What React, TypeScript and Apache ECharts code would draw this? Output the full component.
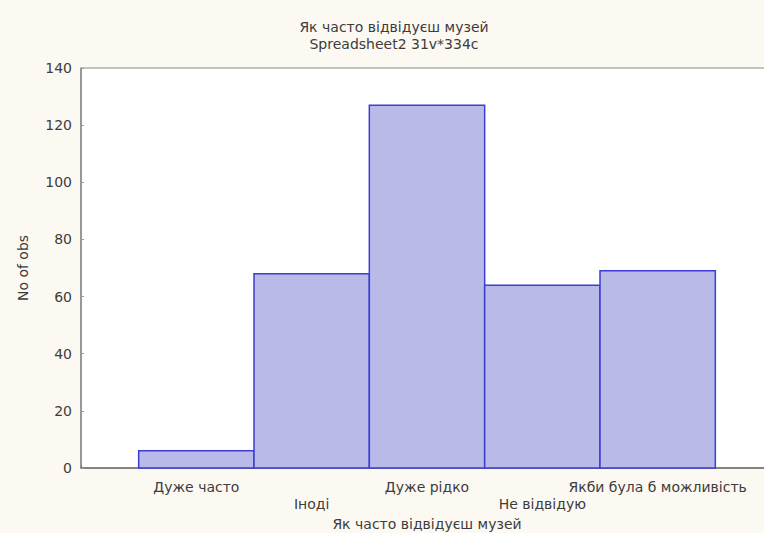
import React, { useEffect, useRef } from "react";
import * as echarts from "echarts";

const categories = ["Дуже часто", "Іноді", "Дуже рідко", "Не відвідую", "Якби була б можливість"];
const counts = [6, 68, 127, 64, 69];
const yTicks = [0, 20, 40, 60, 80, 100, 120, 140];
const titleText = "Як часто відвідуєш музей";
const subtitleText = "Spreadsheet2 31v*334c";
const xAxisTitle = "Як часто відвідуєш музей";
const yAxisTitle = "No of obs";

const FONT = "'DejaVu Sans', 'Liberation Sans', Arial, sans-serif";
const TEXT = "#3c3c3c";

export default function App() {
  const ref = useRef<HTMLDivElement>(null);
  useEffect(() => {
    if (!ref.current) return;
    const chart = echarts.init(ref.current, null, { renderer: "svg" });
    const data = counts.map((v, i) => [i + 1, v]);
    chart.setOption({
      animation: false,
      backgroundColor: "#fcf9f3",
      textStyle: { fontFamily: FONT },
      grid: {
        left: 81,
        top: 68,
        width: 692,
        bottom: 65,
        outerBoundsMode: "none",
        containLabel: false,
        show: true,
        backgroundColor: "#ffffff",
        borderColor: "#8a8a8a",
        borderWidth: 1,
      },
      graphic: [
        { type: "text", x: 394, y: 27, style: { text: titleText, font: `14px ${FONT}`, fill: TEXT, align: "center", verticalAlign: "middle" } },
        { type: "text", x: 394, y: 44, style: { text: subtitleText, font: `14px ${FONT}`, fill: TEXT, align: "center", verticalAlign: "middle" } },
      ],
      xAxis: {
        type: "value",
        min: 0,
        max: 6,
        interval: 1,
        name: xAxisTitle,
        nameLocation: "middle",
        nameGap: 49,
        nameTextStyle: { color: TEXT, fontSize: 14, fontFamily: FONT },
        splitLine: { show: false },
        axisLine: { show: true, lineStyle: { color: "#6e6e6e", width: 1.5 } },
        axisTick: { show: true, inside: true, length: 3, lineStyle: { color: "#777" } },
        axisLabel: {
          color: TEXT,
          fontSize: 14,
          fontFamily: FONT,
          margin: 10,
          lineHeight: 17,
          formatter: (v: number) => {
            const i = Math.round(v) - 1;
            if (i < 0 || i >= categories.length) return "";
            return i % 2 === 1 ? "\n" + categories[i] : categories[i];
          },
        },
      },
      yAxis: {
        type: "value",
        min: yTicks[0],
        max: yTicks[yTicks.length - 1],
        interval: 20,
        name: yAxisTitle,
        nameLocation: "middle",
        nameGap: 51,
        nameRotate: 90,
        nameTextStyle: { color: TEXT, fontSize: 14, fontFamily: FONT },
        splitLine: { show: false },
        axisLine: { show: true, lineStyle: { color: "#8a8a8a", width: 1.5 } },
        axisTick: { show: true, inside: true, length: 3, lineStyle: { color: "#999" } },
        axisLabel: { color: TEXT, fontSize: 14, fontFamily: FONT, margin: 9 },
      },
      series: [
        {
          type: "custom",
          data,
          encode: { x: 0, y: 1 },
          renderItem: (params: any, api: any) => {
            const x = api.value(0);
            const y = api.value(1);
            const p0 = api.coord([x - 0.5, y]);
            const p1 = api.coord([x + 0.5, 0]);
            return {
              type: "rect",
              shape: { x: p0[0], y: p0[1], width: p1[0] - p0[0], height: p1[1] - p0[1] },
              style: { fill: "#b9bae7", stroke: "#3d3dd6", lineWidth: 1.5 },
            };
          },
        },
      ],
    });
    return () => chart.dispose();
  }, []);
  return <div ref={ref} style={{ position: "fixed", left: 0, top: 0, width: 764, height: 533 }} />;
}
